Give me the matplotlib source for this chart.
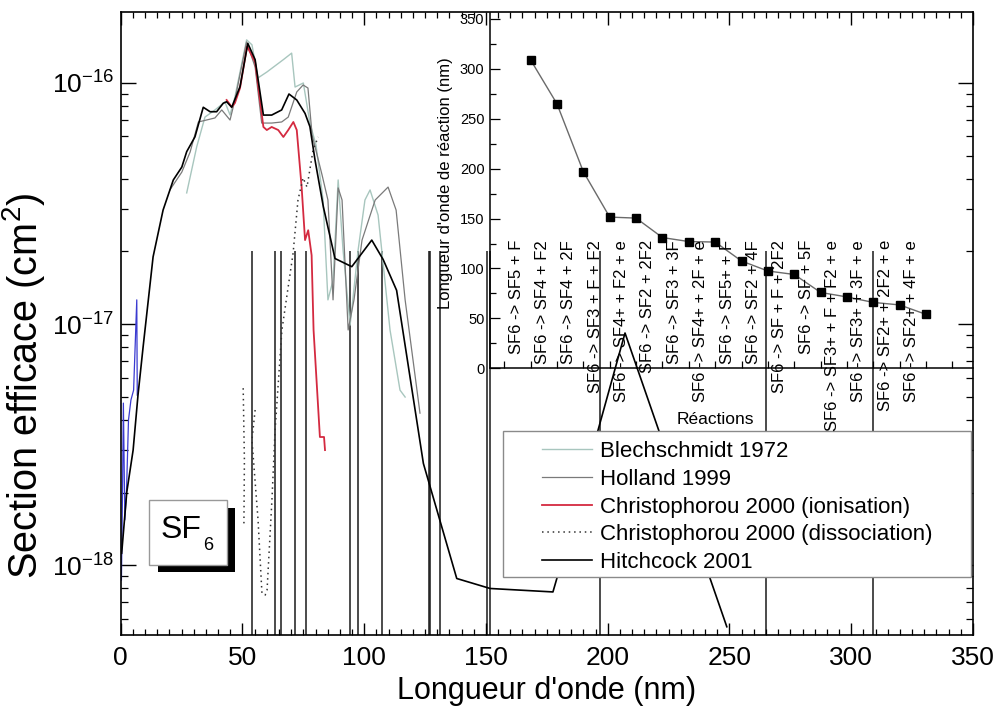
import matplotlib
matplotlib.use("Agg")
import matplotlib.pyplot as plt
import numpy as np
from matplotlib.patches import Rectangle
from matplotlib.ticker import MultipleLocator, NullFormatter, FixedLocator, FixedFormatter

plt.rcParams['font.family'] = ['Liberation Sans', 'DejaVu Sans']
plt.rcParams['mathtext.fontset'] = 'custom'
plt.rcParams['mathtext.rm'] = 'Liberation Sans'
plt.rcParams['mathtext.it'] = 'Liberation Sans:italic'
plt.rcParams['mathtext.bf'] = 'Liberation Sans:bold'

# ---------------- data (wavelength in nm, cross sections in 1e-17 cm^2) -------------
hitch_nm = [0.4, 2.5, 5.1, 7.1, 9.2, 13.3, 17.4, 21.6, 25.1, 27.1, 30.5, 33.9, 36.7, 39.4,
            42.1, 43.5, 45.6, 49.0, 52.2, 55.2, 58.6, 62.0, 66.1, 69.1, 72.3, 75.7, 77.7,
            79.8, 83.2, 88.0, 94.9, 103.1, 107.8, 113.3, 124.3, 138.0, 151.7, 177.5, 179.1,
            207.1, 248.9]
hitch_sig = [0.112, 0.201, 0.30, 0.507, 0.803, 1.90, 2.97, 3.96, 4.48, 5.19, 5.98, 7.93, 7.60,
             7.60, 8.24, 8.36, 7.93, 9.66, 14.6, 12.5, 7.36, 7.36, 7.73, 9.0, 8.5, 7.48, 6.59,
             4.79, 3.07, 1.87, 1.73, 2.23, 1.85, 1.38, 0.264, 0.088, 0.080, 0.0774, 0.088,
             0.918, 0.0555]

holland_nm = [20.2, 25.1, 28.5, 31.9, 38.7, 41.5, 44.9, 46.9, 51.7, 55.2, 57.9, 62.0, 66.1,
              68.8, 72.3, 74.9, 76.9, 78.6, 82.7, 85.1, 87.2, 89.3, 90.9, 93.4, 95.8, 99.1,
              104.5, 109.8, 113.1, 116.8, 122.9]
holland_sig = [3.60, 4.27, 5.17, 6.89, 7.16, 7.73, 7.02, 8.50, 14.8, 11.65, 6.82, 6.82, 6.89,
               7.22, 9.18, 9.81, 9.53, 6.09, 4.15, 3.27, 1.26, 3.67, 3.27, 0.945, 1.26, 2.23,
               3.27, 3.70, 2.97, 1.26, 0.427]

blech_nm = [27.1, 31.2, 34.6, 38.7, 42.8, 44.9, 46.9, 51.7, 53.9, 56.4, 60.0, 66.8, 70.2, 71.6,
            75.0, 77.7, 80.2, 83.1, 85.1, 87.2, 89.3, 91.3, 94.2, 97.5, 100.3, 102.4, 105.7,
            110.6, 114.7, 116.8]
blech_sig = [3.50, 5.43, 7.22, 7.73, 8.34, 7.37, 8.75, 15.1, 14.4, 10.5, 11.1, 12.5, 13.3, 9.62,
             10.0, 6.82, 5.53, 3.27, 1.26, 1.52, 3.96, 2.03, 0.99, 2.03, 3.27, 3.60, 2.83,
             0.945, 0.532, 0.498]

ion_nm = [43.5, 45.6, 46.9, 49.0, 51.9, 55.2, 58.6, 60.0, 62.0, 64.7, 66.8, 68.8, 70.9, 72.3,
          74.3, 75.7, 77.0, 78.4, 79.2, 81.8, 83.5, 83.9]
ion_sig = [8.50, 7.95, 8.26, 9.53, 14.2, 12.2, 6.57, 6.38, 6.57, 6.38, 5.97, 6.38, 6.89, 6.38,
           3.70, 2.23, 2.45, 1.93, 0.945, 0.340, 0.340, 0.300]

diss_nm = [50.3, 50.8, 50.6, np.nan, 55.2, 53.9, 56.4, 58.0, 59.3, 60.1, 62.1, 63.4, 64.6, 66.2,
           70.8, 72.8, 74.9, 76.5, 79.0, 81.1]
diss_sig = [0.542, 0.273, 0.149, np.nan, 0.440, 0.330, 0.154, 0.0765, 0.0751, 0.0787, 0.186,
            0.363, 0.548, 0.944, 1.97, 3.27, 4.04, 3.70, 5.27, 5.97]

blue_nm = [0.3, 0.8, 1.1, 1.7, 2.4, 3.2, 4.2, 5.3, 6.6, 6.8]
blue_sig = [0.0867, 0.225, 0.470, 0.154, 0.205, 0.400, 0.484, 0.532, 1.26, 0.507]

reactions = ["SF6 -> SF5 + F", "SF6 -> SF4 + F2", "SF6 -> SF4 + 2F", "SF6 -> SF3 + F + F2",
             "SF6 -> SF4+ + F2 + e", "SF6 -> SF2 + 2F2", "SF6 -> SF3 + 3F",
             "SF6 -> SF4+ + 2F + e", "SF6 -> SF5+ + F", "SF6 -> SF2 + 4F",
             "SF6 -> SF + F + 2F2", "SF6 -> SF + 5F", "SF6 -> SF3+ + F + F2 + e",
             "SF6 -> SF3+ + 3F + e", "SF6 -> SF2+ + 2F2 + e", "SF6 -> SF2+ + 4F + e"]
reaction_nm = [309, 265, 197, 151.5, 150.5, 131, 127, 126.5, 107.5, 97.5, 94, 76, 71.5, 66,
               63.5, 54]

legend_labels = ["Blechschmidt 1972", "Holland 1999", "Christophorou 2000 (ionisation)",
                 "Christophorou 2000 (dissociation)", "Hitchcock 2001"]

y_major = [1e-18, 1e-17, 1e-16]
y_major_labels = [r"$10^{-18}$", r"$10^{-17}$", r"$10^{-16}$"]

UNIT = 1e-17
DROP_TOP = 2.0e-17
Y_LIM = (5.13e-19, 1.97e-16)

def s(v):
    return np.asarray(v, dtype=float) * UNIT

# ---------------- figure -------------
fig = plt.figure(figsize=(9.97, 7.08), dpi=100)
fig.patch.set_facecolor('white')
W, H = 997.0, 708.0
ax = fig.add_axes([120.7 / W, 1 - 635 / H, 852.3 / W, 623 / H])
ax.set_yscale('log')
ax.set_xlim(0, 350)
ax.set_ylim(*Y_LIM)

# drop lines at reaction wavelengths
ax.vlines(reaction_nm, Y_LIM[0], DROP_TOP, colors='#1a1a1a', lw=1.1, zorder=1.5)

ax.plot(blue_nm, s(blue_sig), color='#3a3ad0', lw=0.9, zorder=2)
l_b, = ax.plot(blech_nm, s(blech_sig), color='#a8c6be', lw=1.0, zorder=2)
l_h, = ax.plot(holland_nm, s(holland_sig), color='#7a7a7a', lw=0.9, zorder=2.1)
l_i, = ax.plot(ion_nm, s(ion_sig), color='#d42a40', lw=1.3, zorder=2.2)
l_d, = ax.plot(diss_nm, s(diss_sig), color='#333333', lw=1.1, ls=(0, (1, 2.5)), zorder=2.2)
l_k, = ax.plot(hitch_nm, s(hitch_sig), color='black', lw=1.2, zorder=2.3)

# ticks
ax.xaxis.set_major_locator(MultipleLocator(50))
ax.xaxis.set_minor_locator(MultipleLocator(5))
ax.yaxis.set_major_locator(FixedLocator(y_major))
ax.yaxis.set_major_formatter(FixedFormatter(y_major_labels))
minor_vals = [m * d for d in (1e-19, 1e-18, 1e-17, 1e-16) for m in range(2, 10)
              if Y_LIM[0] <= m * d <= Y_LIM[1]]
ax.yaxis.set_minor_locator(FixedLocator(minor_vals))
ax.yaxis.set_minor_formatter(NullFormatter())
ax.tick_params(axis='both', which='both', direction='in', top=True, right=True)
ax.tick_params(axis='x', which='major', length=9, width=1.0, labelsize=19, pad=8)
ax.tick_params(axis='x', which='minor', length=4.5, width=0.9)
ax.tick_params(axis='y', which='major', length=11, width=1.0, labelsize=19, pad=5)
ax.tick_params(axis='y', which='minor', length=5, width=0.9)
for sp in ax.spines.values():
    sp.set_linewidth(1.2)

ax.set_xlabel("Longueur d'onde (nm)", fontsize=22, labelpad=4)
ax.set_ylabel("Section efficace (cm$^2$)", fontsize=28.5)
ax.yaxis.set_label_coords(-0.086, 0.40)

# legend with white frame
frame = Rectangle((0.4486, 0.0931), 0.549, 0.2343, transform=ax.transAxes,
                  facecolor='white', edgecolor='#8a8a8a', lw=1.0, zorder=10)
ax.add_patch(frame)
leg = ax.legend([l_b, l_h, l_i, l_d, l_k], legend_labels, loc='upper left',
                bbox_to_anchor=(0.4943, 0.311), frameon=False, fontsize=16,
                handlelength=2.25, handletextpad=0.37, labelspacing=0.3, borderpad=0,
                borderaxespad=0)
leg.set_zorder(11)

# SF6 box
shadow = Rectangle((0.0438, 0.1011), 0.0903, 0.1027, transform=ax.transAxes,
                   facecolor='black', edgecolor='none', zorder=8)
box = Rectangle((0.0332, 0.1124), 0.0915, 0.1043, transform=ax.transAxes,
                facecolor='white', edgecolor='#999999', lw=1.0, zorder=9)
ax.add_patch(shadow)
ax.add_patch(box)
ax.text(0.0468, 0.1557, "SF", transform=ax.transAxes, fontsize=23, ha='left', va='baseline',
        zorder=10)
ax.text(0.0966, 0.1364, "6", transform=ax.transAxes, fontsize=13, ha='left', va='baseline',
        zorder=10)

# ---------------- inset -------------
axin = fig.add_axes([490 / W, 1 - 368.3 / H, 483 / W, 355.3 / H])
axin.patch.set_visible(False)
axin.set_xlim(-0.54, 17.78)
axin.set_ylim(0, 356)
idx = np.arange(1, len(reaction_nm) + 1)
axin.plot(idx, reaction_nm, color='#6a6a6a', lw=1.0, marker='s', ms=6,
          mfc='black', mec='black', zorder=3)
for i, lab in zip(idx, reactions):
    axin.text(i - 0.55, 128.5, lab, rotation=90, ha='center', va='top', fontsize=12,
              clip_on=False, zorder=4)
axin.spines['top'].set_visible(False)
axin.spines['right'].set_visible(False)
axin.spines['left'].set_linewidth(1.1)
axin.spines['bottom'].set_linewidth(1.1)
axin.xaxis.set_major_locator(FixedLocator(np.arange(0, 18)))
axin.xaxis.set_ticklabels([])
axin.yaxis.set_major_locator(MultipleLocator(50))
axin.yaxis.set_minor_locator(MultipleLocator(25))
axin.tick_params(axis='x', which='major', direction='in', length=5, width=0.9)
axin.tick_params(axis='y', which='major', direction='in', length=7, width=0.9,
                 labelsize=10.5, pad=4)
axin.tick_params(axis='y', which='minor', direction='in', length=4, width=0.9)
axin.text(-0.093, 0.52, "Longueur d'onde de réaction (nm)", transform=axin.transAxes,
          rotation=90, ha='center', va='center', fontsize=12)
axin.text(8.0, -50.8, "Réactions", ha='center', va='center', fontsize=12.5, clip_on=False)

fig.savefig("out.png", dpi=100, facecolor='white')
